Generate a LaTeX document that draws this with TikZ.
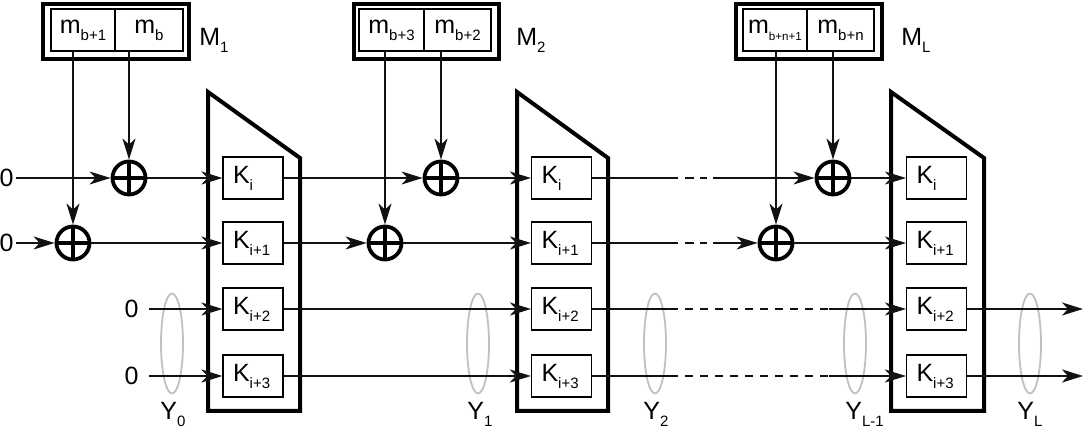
\documentclass[tikz,border=0pt]{standalone}
\usepackage{fontspec}
\setmainfont{Liberation Sans}
\usepackage{tikz}
\usetikzlibrary{arrows.meta,positioning,shapes.geometric}
\definecolor{ringGrey}{HTML}{C0C0C0}
\definecolor{wireBlack}{HTML}{111111}
\newcommand{\lsub}[1]{\raisebox{-3.5pt}{\fontsize{7.5}{8}\selectfont #1}}
\newcommand{\tsub}[1]{\raisebox{-3.5pt}{\fontsize{5.8}{7}\selectfont #1}}
\tikzset{
  lbl/.style={font=\fontsize{12.5}{14}\selectfont, inner sep=0pt},
  msgframe/.style={rectangle, draw, line width=2pt, minimum width=73pt, minimum height=27.5pt, inner sep=0pt},
  msgcell/.style={rectangle, draw, line width=0.6pt, minimum height=21pt, inner sep=0pt, outer sep=0pt, font=\fontsize{12.5}{14}\selectfont},
  keybox/.style={rectangle, draw, line width=0.6pt, minimum width=30pt, minimum height=21pt, text width=20pt, inner xsep=5pt, inner ysep=0pt, align=left, font=\fontsize{12.5}{14}\selectfont},
  xornode/.style={circle, draw, line width=1.9pt, minimum size=16.5pt, inner sep=0pt,
    path picture={\draw[line width=1.75pt] (path picture bounding box.north) -- (path picture bounding box.south) (path picture bounding box.west) -- (path picture bounding box.east);}},
  wire/.style={line width=0.8pt, draw=wireBlack},
  thickwire/.style={line width=1.2pt, draw=wireBlack},
  flowarrow/.style={-{Stealth[length=10.5pt,width=6.5pt,inset=3pt]}},
  gapdash/.style={dash pattern=on 4.5pt off 3pt},
  longdash/.style={dash pattern=on 4pt off 3.5pt},
  blockline/.style={line width=2pt, line join=miter},
  groupring/.style={ellipse, draw=ringGrey, line width=0.9pt, minimum width=11pt, minimum height=50pt, inner sep=0pt},
}

\begin{document}
\begin{tikzpicture}[x=0.5pt,y=-0.5pt]
  \useasboundingbox (0,0) rectangle (1083,437);

  % cipher blocks
  \draw[blockline] (208,92) -- (300,158) -- (300,411) -- (208,411) -- cycle;
  \draw[blockline] (517,92) -- (608,158) -- (608,411) -- (517,411) -- cycle;
  \draw[blockline] (891,92) -- (984,158) -- (984,411) -- (891,411) -- cycle;

  % message blocks
  \node[msgframe] (M1) at (116,31.5) {};
  \node[msgcell, minimum width=32pt] (m1a) at (83,30) {m\lsub{b+1}};
  \node[msgcell, minimum width=34pt, right=0pt of m1a] (m1b) {m\lsub{b}};
  \node[lbl, anchor=west] (M1lab) at (199,40) {M\lsub{1}};

  \node[msgframe, minimum width=72.5pt] (M2) at (426.5,31.5) {};
  \node[msgcell, minimum width=32.5pt] (m2a) at (391.5,30) {m\lsub{b+3}};
  \node[msgcell, minimum width=33.5pt, right=0pt of m2a] (m2b) {m\lsub{b+2}};
  \node[lbl, anchor=west] (M2lab) at (516,40) {M\lsub{2}};

  \node[msgframe] (ML) at (809,31.5) {};
  \node[msgcell, minimum width=32pt] (mLa) at (775,30) {m\tsub{b+n+1}};
  \node[msgcell, minimum width=33.5pt, right=0pt of mLa] (mLb) {m\lsub{b+n}};
  \node[lbl, anchor=west] (MLlab) at (901,40) {M\lsub{L}};

  % key registers
  \node[keybox] (k11) at (253,178) {K\lsub{i}};
  \node[keybox] (k12) at (253,243) {K\lsub{i+1}};
  \node[keybox] (k13) at (253,309) {K\lsub{i+2}};
  \node[keybox] (k14) at (253,376) {K\lsub{i+3}};
  \node[keybox] (k21) at (561.5,178) {K\lsub{i}};
  \node[keybox] (k22) at (561.5,243) {K\lsub{i+1}};
  \node[keybox] (k23) at (561.5,309) {K\lsub{i+2}};
  \node[keybox] (k24) at (561.5,376) {K\lsub{i+3}};
  \node[keybox] (k31) at (936.5,178) {K\lsub{i}};
  \node[keybox] (k32) at (936.5,243) {K\lsub{i+1}};
  \node[keybox] (k33) at (936.5,309) {K\lsub{i+2}};
  \node[keybox] (k34) at (936.5,376) {K\lsub{i+3}};

  % xor gates
  \node[xornode] (x1a) at (129,178) {};
  \node[xornode] (x1b) at (73,243) {};
  \node[xornode] (x2a) at (441,178) {};
  \node[xornode] (x2b) at (385,243) {};
  \node[xornode] (x3a) at (833,178) {};
  \node[xornode] (x3b) at (776,243) {};

  % zero inputs
  \node[lbl, inner xsep=1pt] (z1) at (6.5,178) {0};
  \node[lbl, inner xsep=1pt] (z2) at (6.5,243) {0};
  \node[lbl, inner xsep=5pt] (z3) at (131.5,309) {0};
  \node[lbl, inner xsep=5pt] (z4) at (131.5,376) {0};

  % state groups
  \node[groupring] (e0) at (172,343.5) {};
  \node[groupring] (e1) at (478,343.5) {};
  \node[groupring] (e2) at (655,343.5) {};
  \node[groupring] (eL1) at (855,343.5) {};
  \node[groupring] (eL) at (1030,343.5) {};
  \node[lbl, anchor=north west] (y0) at (160,402) {Y\lsub{0}};
  \node[lbl, anchor=north west] (y1) at (467,402) {Y\lsub{1}};
  \node[lbl, anchor=north west] (y2) at (643,402) {Y\lsub{2}};
  \node[lbl, anchor=north west] (yL1) at (845,402) {Y\lsub{L-1}};
  \node[lbl, anchor=north west] (yL) at (1017,402) {Y\lsub{L}};

  \coordinate (gA) at (678,0);
  \coordinate (gB) at (685,0);
  \coordinate (gC) at (707,0);
  \coordinate (gD) at (713,0);
  \coordinate (gE) at (829,0);
  \coordinate (out3) at (1083,309);
  \coordinate (out4) at (1083,376);

  % message bits down to the xors
  \draw[wire, flowarrow] (m1a.south -| x1b) -- (x1b);
  \draw[wire, flowarrow] (m1b.south -| x1a) -- (x1a);
  \draw[wire, flowarrow] (m2a.south -| x2b) -- (x2b);
  \draw[wire, flowarrow] (m2b.south -| x2a) -- (x2a);
  \draw[wire, flowarrow] (mLa.south -| x3b) -- (x3b);
  \draw[wire, flowarrow] (mLb.south -| x3a) -- (x3a);

  % first round
  \draw[wire, flowarrow] (z1) -- (x1a);
  \draw[wire, flowarrow] (z2) -- (x1b);
  \draw[wire, flowarrow] (x1a) -- (k11);
  \draw[wire, flowarrow] (x1b) -- (k12);
  \draw[wire, flowarrow] (z3) -- (k13);
  \draw[thickwire, flowarrow] (z4) -- (k14);

  % second round
  \draw[wire, flowarrow] (k11) -- (x2a);
  \draw[wire, flowarrow] (k12) -- (x2b);
  \draw[wire, flowarrow] (x2a) -- (k21);
  \draw[wire, flowarrow] (x2b) -- (k22);
  \draw[wire, flowarrow] (k13) -- (k23);
  \draw[thickwire, flowarrow] (k14) -- (k24);

  % skipped rounds
  \draw[wire] (k21.east) -- (gA |- k21);
  \draw[wire, gapdash] (gB |- k21) -- (gC |- k21);
  \draw[wire, flowarrow] (gD |- k21) -- (x3a);
  \draw[wire] (k22.east) -- (gA |- k22);
  \draw[wire, gapdash] (gB |- k22) -- (gC |- k22);
  \draw[wire, flowarrow] (gD |- k22) -- (x3b);
  \draw[wire] (k23.east) -- (gA |- k23);
  \draw[wire, longdash] (gB |- k23) -- (gE |- k23);
  \draw[wire, flowarrow] (gE |- k23) -- (k33);
  \draw[thickwire] (k24.east) -- (gA |- k24);
  \draw[thickwire, longdash] (gB |- k24) -- (gE |- k24);
  \draw[thickwire, flowarrow] (gE |- k24) -- (k34);

  % last round
  \draw[wire, flowarrow] (x3a) -- (k31);
  \draw[wire, flowarrow] (x3b) -- (k32);
  \draw[wire, flowarrow] (k33) -- (out3);
  \draw[thickwire, flowarrow] (k34) -- (out4);
\end{tikzpicture}
\end{document}
